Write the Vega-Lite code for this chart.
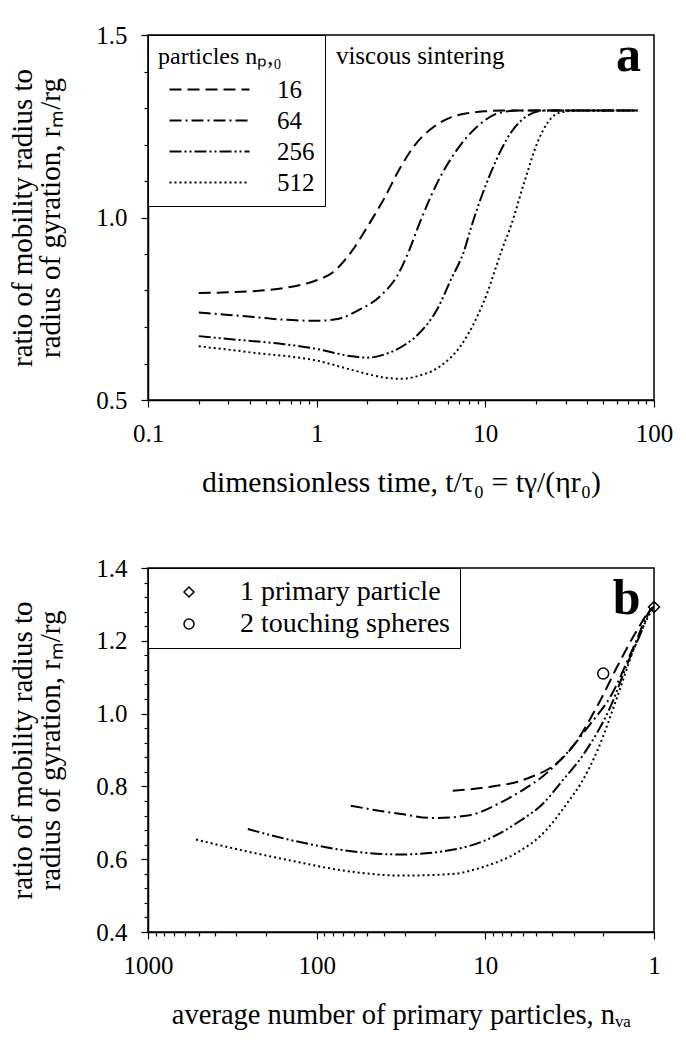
{
  "$schema": "https://vega.github.io/schema/vega-lite/v6.json",
  "background": "white",
  "padding": {"left": 8, "top": 22, "right": 0, "bottom": 0},
  "spacing": 168,
  "bounds": "flush",
  "resolve": {"legend": {"strokeDash": "independent", "shape": "independent"}},
  "config": {
    "font": "Liberation Serif",
    "view": {"stroke": "black", "strokeWidth": 1.5},
    "axis": {
      "grid": false, "domainColor": "black", "domainWidth": 1.5,
      "tickColor": "black", "tickWidth": 1.2, "tickSize": 7,
      "labelFont": "Liberation Serif", "labelFontSize": 25, "labelColor": "black",
      "titleFont": "Liberation Serif", "titleFontSize": 29, "titleFontWeight": "normal", "titleColor": "black",
      "labelFlush": false, "labelOverlap": false, "labelPadding": 14
    },
    "text": {"font": "Liberation Serif", "color": "black"}
  },
  "datasets": {
    "a": [
      {"n0":"16","t":0.2,"r":0.793},{"n0":"16","t":0.3,"r":0.795},{"n0":"16","t":0.45,"r":0.799},{"n0":"16","t":0.6,"r":0.805},{"n0":"16","t":0.8,"r":0.815},{"n0":"16","t":1.0,"r":0.828},{"n0":"16","t":1.25,"r":0.85},{"n0":"16","t":1.6,"r":0.905},{"n0":"16","t":2.0,"r":0.975},{"n0":"16","t":2.5,"r":1.05},{"n0":"16","t":3.16,"r":1.14},{"n0":"16","t":3.8,"r":1.197},{"n0":"16","t":5.0,"r":1.25},{"n0":"16","t":6.3,"r":1.275},{"n0":"16","t":7.9,"r":1.286},{"n0":"16","t":10,"r":1.291},{"n0":"16","t":12.5,"r":1.293},{"n0":"16","t":20,"r":1.293},{"n0":"16","t":40,"r":1.293},{"n0":"16","t":80,"r":1.293},
      {"n0":"64","t":0.2,"r":0.74},{"n0":"64","t":0.3,"r":0.733},{"n0":"64","t":0.41,"r":0.728},{"n0":"64","t":0.64,"r":0.72},{"n0":"64","t":1.0,"r":0.717},{"n0":"64","t":1.33,"r":0.722},{"n0":"64","t":1.75,"r":0.745},{"n0":"64","t":2.4,"r":0.786},{"n0":"64","t":3.0,"r":0.84},{"n0":"64","t":3.5,"r":0.905},{"n0":"64","t":4.0,"r":0.975},{"n0":"64","t":5.2,"r":1.096},{"n0":"64","t":6.85,"r":1.188},{"n0":"64","t":9.0,"r":1.25},{"n0":"64","t":11.8,"r":1.285},{"n0":"64","t":15.5,"r":1.293},{"n0":"64","t":30,"r":1.293},{"n0":"64","t":80,"r":1.293},
      {"n0":"256","t":0.2,"r":0.675},{"n0":"256","t":0.3,"r":0.667},{"n0":"256","t":0.45,"r":0.66},{"n0":"256","t":0.64,"r":0.653},{"n0":"256","t":1.0,"r":0.64},{"n0":"256","t":1.6,"r":0.62},{"n0":"256","t":2.0,"r":0.616},{"n0":"256","t":2.64,"r":0.628},{"n0":"256","t":3.3,"r":0.65},{"n0":"256","t":4.0,"r":0.68},{"n0":"256","t":5.2,"r":0.75},{"n0":"256","t":6.25,"r":0.83},{"n0":"256","t":7.5,"r":0.91},{"n0":"256","t":8.2,"r":0.97},{"n0":"256","t":10.8,"r":1.124},{"n0":"256","t":14.2,"r":1.233},{"n0":"256","t":17.8,"r":1.279},{"n0":"256","t":22.4,"r":1.293},{"n0":"256","t":40,"r":1.293},{"n0":"256","t":80,"r":1.293},
      {"n0":"512","t":0.2,"r":0.647},{"n0":"512","t":0.3,"r":0.638},{"n0":"512","t":0.45,"r":0.628},{"n0":"512","t":0.64,"r":0.621},{"n0":"512","t":1.0,"r":0.608},{"n0":"512","t":1.6,"r":0.583},{"n0":"512","t":2.5,"r":0.562},{"n0":"512","t":3.16,"r":0.558},{"n0":"512","t":4.0,"r":0.566},{"n0":"512","t":5.46,"r":0.594},{"n0":"512","t":7.16,"r":0.649},{"n0":"512","t":9.0,"r":0.731},{"n0":"512","t":10.3,"r":0.795},{"n0":"512","t":11.3,"r":0.85},{"n0":"512","t":12.5,"r":0.91},{"n0":"512","t":14.2,"r":0.978},{"n0":"512","t":17.0,"r":1.096},{"n0":"512","t":20.4,"r":1.206},{"n0":"512","t":23.4,"r":1.26},{"n0":"512","t":28,"r":1.288},{"n0":"512","t":35,"r":1.293},{"n0":"512","t":80,"r":1.293}
    ],
    "b": [
      {"n0":"16","n":15.6,"r":0.788},{"n0":"16","n":10.1,"r":0.797},{"n0":"16","n":6.43,"r":0.813},{"n0":"16","n":5.1,"r":0.83},{"n0":"16","n":4.08,"r":0.852},{"n0":"16","n":3.11,"r":0.903},{"n0":"16","n":2.16,"r":1.022},{"n0":"16","n":1.64,"r":1.132},{"n0":"16","n":1.25,"r":1.232},{"n0":"16","n":1.04,"r":1.287},{"n0":"16","n":1,"r":1.293},
      {"n0":"64","n":62.7,"r":0.747},{"n0":"64","n":40,"r":0.731},{"n0":"64","n":31.6,"r":0.724},{"n0":"64","n":20.1,"r":0.713},{"n0":"64","n":12.7,"r":0.72},{"n0":"64","n":8.09,"r":0.756},{"n0":"64","n":6,"r":0.79},{"n0":"64","n":4.5,"r":0.83},{"n0":"64","n":3.25,"r":0.894},{"n0":"64","n":2.4,"r":0.97},{"n0":"64","n":1.8,"r":1.049},{"n0":"64","n":1.31,"r":1.187},{"n0":"64","n":1.04,"r":1.287},{"n0":"64","n":1,"r":1.293},
      {"n0":"256","n":256,"r":0.683},{"n0":"256","n":150,"r":0.655},{"n0":"256","n":98.6,"r":0.637},{"n0":"256","n":49.9,"r":0.617},{"n0":"256","n":31.6,"r":0.613},{"n0":"256","n":16,"r":0.625},{"n0":"256","n":10.1,"r":0.651},{"n0":"256","n":6.43,"r":0.701},{"n0":"256","n":4.48,"r":0.756},{"n0":"256","n":3.56,"r":0.811},{"n0":"256","n":2.6,"r":0.89},{"n0":"256","n":1.8,"r":1.022},{"n0":"256","n":1.43,"r":1.14},{"n0":"256","n":1.2,"r":1.22},{"n0":"256","n":1.04,"r":1.287},{"n0":"256","n":1,"r":1.293},
      {"n0":"512","n":519,"r":0.654},{"n0":"512","n":300,"r":0.628},{"n0":"512","n":156,"r":0.6},{"n0":"512","n":62.7,"r":0.566},{"n0":"512","n":31.6,"r":0.555},{"n0":"512","n":16,"r":0.559},{"n0":"512","n":10.1,"r":0.58},{"n0":"512","n":6.43,"r":0.619},{"n0":"512","n":4.48,"r":0.674},{"n0":"512","n":3.25,"r":0.756},{"n0":"512","n":2.7,"r":0.81},{"n0":"512","n":2.16,"r":0.9},{"n0":"512","n":1.64,"r":1.05},{"n0":"512","n":1.31,"r":1.18},{"n0":"512","n":1.1,"r":1.26},{"n0":"512","n":1,"r":1.293}
    ],
    "pts": [
      {"kind":"1 primary particle","n":1,"r":1.293},
      {"kind":"2 touching spheres","n":2,"r":1.11}
    ]
  },
  "vconcat": [
    {
      "width": 506, "height": 365,
      "resolve": {"axis": {"y": "independent"}},
      "layer": [
        {
          "data": {"name": "a"},
          "mark": {"type": "line", "strokeWidth": 2, "interpolate": "monotone", "color": "black"},
          "encoding": {
            "x": {"field": "t", "type": "quantitative",
              "scale": {"type": "log", "domain": [0.1, 100], "nice": false},
              "axis": {
                "title": "dimensionless time, t/τ₀ = tγ/(ηr₀)",
                "titleFontSize": 29.7,
                "values": [0.1,0.2,0.3,0.4,0.5,0.6,0.7,0.8,0.9,1,2,3,4,5,6,7,8,9,10,20,30,40,50,60,70,80,90,100],
                "labelExpr": "datum.value==0.1||datum.value==1||datum.value==10||datum.value==100 ? format(datum.value,'~g') : ''",
                "labelFontSize": {"condition": {"test": "datum.value==0.1||datum.value==1||datum.value==10||datum.value==100", "value": 25}, "value": 0.1},
                "labelOverlap": false,
                "tickDash": {"condition": {"test": "datum.value==0.1||datum.value==1||datum.value==10||datum.value==100", "value": [7, 0]}, "value": [4, 20]},
                "titlePadding": 22
              }},
            "y": {"field": "r", "type": "quantitative",
              "scale": {"domain": [0.5, 1.5], "nice": false, "zero": false},
              "axis": {
                "title": ["ratio of mobility radius to", "radius of gyration, rₘ/rg"],
                "titleLineHeight": 28,
                "values": [0.5, 1, 1.5],
                "format": ".1f",
                "labelOverlap": false,
                "titlePadding": 30
              }},
            "strokeDash": {"field": "n0", "type": "nominal",
              "scale": {"domain": ["16","64","256","512"], "range": [[12,6],[12,4,2,4],[12,3,2,3,2,3],[2,3]]},
              "legend": {
                "title": "particles nₚ,₀", "orient": "top-left", "offset": 0, "padding": 10,
                "strokeColor": "black", "fillColor": "white",
                "symbolType": "M-8,0H8", "symbolSize": 100, "symbolStrokeWidth": 2, "symbolStrokeColor": "black",
                "symbolOffset": 39, "labelOffset": 55, "labelLimit": 0,
                "labelFont": "Liberation Serif", "labelFontSize": 25, "labelColor": "black",
                "titleFont": "Liberation Serif", "titleFontSize": 24, "titleFontWeight": "normal", "titleColor": "black",
                "titlePadding": 8, "rowPadding": 5
              }}
          }
        },
        {
          "data": {"values": [{}]},
          "mark": {"type": "text", "text": ""},
          "encoding": {
            "x": {"datum": 1, "type": "quantitative"},
            "y": {"datum": 1, "type": "quantitative",
              "axis": {"orient": "left", "values": [0.6,0.7,0.8,0.9,1.1,1.2,1.3,1.4], "labels": false, "title": null, "domain": false, "tickSize": 4, "grid": false}}
          }
        },
        {
          "data": {"values": [{}]},
          "mark": {"type": "text", "text": "viscous sintering", "align": "left", "baseline": "alphabetic", "fontSize": 25},
          "encoding": {"x": {"datum": 1.3, "type": "quantitative"}, "y": {"datum": 1.4205, "type": "quantitative", "axis": null}}
        },
        {
          "data": {"values": [{}]},
          "mark": {"type": "text", "text": "a", "align": "right", "baseline": "alphabetic", "fontSize": 50, "fontWeight": "bold"},
          "encoding": {"x": {"datum": 83.6, "type": "quantitative"}, "y": {"datum": 1.401, "type": "quantitative", "axis": null}}
        }
      ]
    },
    {
      "width": 506, "height": 364,
      "resolve": {"axis": {"y": "independent"}},
      "layer": [
        {
          "data": {"name": "b"},
          "mark": {"type": "line", "strokeWidth": 2, "interpolate": "monotone", "color": "black"},
          "encoding": {
            "x": {"field": "n", "type": "quantitative",
              "scale": {"type": "log", "domain": [1, 1000], "nice": false, "reverse": true},
              "axis": {
                "title": "average number of primary particles, nᵥₐ",
                "titleFontSize": 28.5,
                "values": [1,2,3,4,5,6,7,8,9,10,20,30,40,50,60,70,80,90,100,200,300,400,500,600,700,800,900,1000],
                "labelExpr": "datum.value==1||datum.value==10||datum.value==100||datum.value==1000 ? format(datum.value,'~g') : ''",
                "labelFontSize": {"condition": {"test": "datum.value==1||datum.value==10||datum.value==100||datum.value==1000", "value": 25}, "value": 0.1},
                "labelOverlap": false,
                "tickDash": {"condition": {"test": "datum.value==1||datum.value==10||datum.value==100||datum.value==1000", "value": [7, 0]}, "value": [4, 20]},
                "titlePadding": 22
              }},
            "y": {"field": "r", "type": "quantitative",
              "scale": {"domain": [0.4, 1.4], "nice": false, "zero": false},
              "axis": {
                "title": ["ratio of mobility radius to", "radius of gyration, rₘ/rg"],
                "titleLineHeight": 28,
                "values": [0.4, 0.6, 0.8, 1, 1.2, 1.4],
                "format": ".1f",
                "labelOverlap": false,
                "titlePadding": 30
              }},
            "strokeDash": {"field": "n0", "type": "nominal",
              "scale": {"domain": ["16","64","256","512"], "range": [[12,6],[12,4,2,4],[12,3,2,3,2,3],[2,3]]},
              "legend": null}
          }
        },
        {
          "data": {"values": [{}]},
          "mark": {"type": "text", "text": ""},
          "encoding": {
            "x": {"datum": 1, "type": "quantitative"},
            "y": {"datum": 1, "type": "quantitative",
              "axis": {"orient": "left", "values": [0.44,0.48,0.52,0.56,0.64,0.68,0.72,0.76,0.84,0.88,0.92,0.96,1.04,1.08,1.12,1.16,1.24,1.28,1.32,1.36], "labels": false, "title": null, "domain": false, "tickSize": 4, "grid": false}}
          }
        },
        {
          "data": {"name": "pts"},
          "mark": {"type": "point", "filled": false, "color": "black", "strokeWidth": 1.5, "size": 120, "opacity": 1},
          "encoding": {
            "x": {"field": "n", "type": "quantitative"},
            "y": {"field": "r", "type": "quantitative", "axis": null},
            "shape": {"field": "kind", "type": "nominal",
              "scale": {"domain": ["1 primary particle", "2 touching spheres"], "range": ["diamond", "circle"]},
              "legend": {
                "title": null, "orient": "top-left", "offset": 0, "padding": 10,
                "strokeColor": "black", "fillColor": "white",
                "symbolSize": 100, "symbolStrokeWidth": 1.5, "symbolStrokeColor": "black",
                "symbolOffset": 17, "labelOffset": 37, "labelLimit": 0,
                "labelFont": "Liberation Serif", "labelFontSize": 28, "labelColor": "black",
                "rowPadding": 4
              }}
          }
        },
        {
          "data": {"values": [{}]},
          "mark": {"type": "text", "text": "b", "align": "right", "baseline": "alphabetic", "fontSize": 50, "fontWeight": "bold"},
          "encoding": {"x": {"datum": 1.2, "type": "quantitative"}, "y": {"datum": 1.274, "type": "quantitative", "axis": null}}
        }
      ]
    }
  ]
}
